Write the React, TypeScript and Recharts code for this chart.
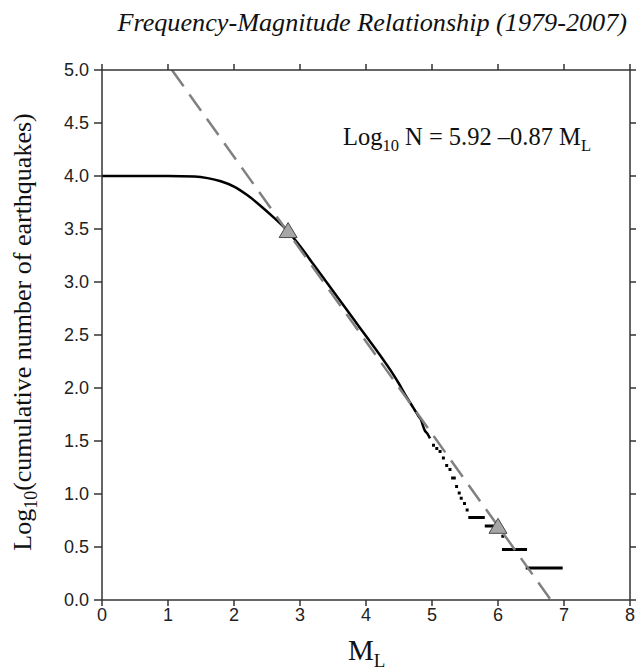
import { ComposedChart, Line, Scatter, XAxis, YAxis } from "recharts";

// cumulative curve
const curveM = [0, 0.5, 1.0, 1.4, 1.6, 1.8, 2.0, 2.2, 2.4, 2.6, 2.8, 3.0, 3.2, 3.4, 3.6, 3.8, 4.0, 4.2, 4.4, 4.5, 4.6, 4.7, 4.74, 4.77, 4.8, 4.84, 4.86, 4.89, 4.93, 4.97];
const curveLogN = [4.0, 4.0, 4.0, 3.995, 3.98, 3.95, 3.9, 3.82, 3.72, 3.61, 3.49, 3.34, 3.17, 3.0, 2.83, 2.66, 2.49, 2.32, 2.14, 2.04, 1.93, 1.83, 1.79, 1.76, 1.73, 1.69, 1.65, 1.6, 1.57, 1.525];

// sparse tail: each entry is a flat step from start to end magnitude
const tailStart = [5.0, 5.05, 5.1, 5.15, 5.2, 5.25, 5.29, 5.35, 5.39, 5.42, 5.47, 5.51, 5.55, 5.8, 6.05, 6.06, 6.42];
const tailEnd = [5.045, 5.095, 5.145, 5.195, 5.245, 5.295, 5.36, 5.395, 5.435, 5.465, 5.515, 5.555, 5.8, 5.94, 6.095, 6.44, 6.98];
const tailLogN = [1.46, 1.43, 1.4, 1.34, 1.27, 1.23, 1.15, 1.07, 1.01, 0.96, 0.91, 0.85, 0.778, 0.699, 0.602, 0.477, 0.301];

// fitted line Log10 N = 5.92 - 0.87 ML, endpoints where it meets the frame
const fitM = [1.06, 6.8];
const fitLogN = [5.0, 0.0];

// triangles marking the fit range
const markM = [2.82, 6.0];
const markLogN = [3.49, 0.7];

const xTicks = [0, 1, 2, 3, 4, 5, 6, 7, 8];
const yTicks = [0, 0.5, 1, 1.5, 2, 2.5, 3, 3.5, 4, 4.5, 5];

const curveData = curveM.map((m, i) => ({ m, v: curveLogN[i] }));
const tailData = tailStart.flatMap((s, i) => [
  { m: s, v: tailLogN[i] },
  { m: tailEnd[i], v: tailLogN[i] },
  { m: tailEnd[i], v: null },
]);
const fitData = fitM.map((m, i) => ({ m, v: fitLogN[i] }));
const markData = markM.map((m, i) => ({ m, v: markLogN[i] }));

const axisColor = "#333";
const tickFont = { fontFamily: "Liberation Sans, Arial, sans-serif", fontSize: 18, fill: "#222" };
const serif = "'Liberation Serif', 'Times New Roman', serif";

function Triangle(props: any) {
  const { cx, cy } = props;
  const w = 9;
  const h = 15;
  return (
    <polygon
      points={`${cx - w},${cy + h / 2} ${cx + w},${cy + h / 2} ${cx},${cy - h / 2}`}
      fill="#a6a6a6"
      stroke="#4a4a4a"
      strokeWidth={1}
    />
  );
}

export default function App() {
  return (
    <div style={{ position: "absolute", left: 0, top: 0, width: 636, height: 671, background: "#fff" }}>
      <ComposedChart width={636} height={671} margin={{ top: 0, right: 0, bottom: 0, left: 0 }}>
        <XAxis
          dataKey="m"
          type="number"
          domain={[0, 8]}
          ticks={xTicks}
          height={71}
          tickSize={6}
          tickMargin={2}
          tick={tickFont}
          stroke={axisColor}
          strokeWidth={1.5}
          allowDataOverflow
        />
        <XAxis
          xAxisId="top"
          orientation="top"
          dataKey="m"
          type="number"
          domain={[0, 8]}
          ticks={xTicks}
          height={70}
          tickSize={6}
          tickFormatter={() => ""}
          stroke={axisColor}
          strokeWidth={1.5}
          allowDataOverflow
        />
        <YAxis
          type="number"
          domain={[0, 5]}
          ticks={yTicks}
          width={102}
          tickSize={8}
          tickMargin={5}
          tick={tickFont}
          tickFormatter={(v: number) => v.toFixed(1)}
          stroke={axisColor}
          strokeWidth={1.5}
          allowDataOverflow
        />
        <YAxis
          yAxisId="right"
          orientation="right"
          type="number"
          domain={[0, 5]}
          ticks={yTicks}
          width={6}
          tickSize={6}
          tickFormatter={() => ""}
          stroke={axisColor}
          strokeWidth={1.5}
          allowDataOverflow
        />
        <Line
          data={curveData}
          dataKey="v"
          type="monotone"
          stroke="#000"
          strokeWidth={2.5}
          dot={false}
          isAnimationActive={false}
        />
        <Line
          data={tailData}
          dataKey="v"
          type="linear"
          stroke="#000"
          strokeWidth={3}
          dot={false}
          isAnimationActive={false}
        />
        <Line
          data={fitData}
          dataKey="v"
          type="linear"
          stroke="#808080"
          strokeWidth={2.5}
          strokeDasharray="20 10"
          dot={false}
          isAnimationActive={false}
        />
        <Scatter data={markData} dataKey="v" shape={Triangle} isAnimationActive={false} />
      </ComposedChart>

      <div
        style={{
          position: "absolute",
          right: 9,
          top: 8,
          fontFamily: serif,
          fontStyle: "italic",
          fontSize: 26.2,
          color: "#111",
          whiteSpace: "nowrap",
        }}
      >
        Frequency-Magnitude Relationship (1979-2007)
      </div>

      <div
        style={{
          position: "absolute",
          left: 343,
          top: 123,
          fontFamily: serif,
          fontSize: 24.5,
          color: "#111",
          whiteSpace: "nowrap",
        }}
      >
        Log<sub style={{ fontSize: 16.5 }}>10</sub> N = 5.92 –0.87 M<sub style={{ fontSize: 16.5 }}>L</sub>
      </div>

      <div
        style={{
          position: "absolute",
          left: 25,
          top: 332,
          transform: "translate(-50%, -50%) rotate(-90deg)",
          fontFamily: serif,
          fontSize: 26,
          color: "#111",
          whiteSpace: "nowrap",
          lineHeight: 1,
        }}
      >
        Log<sub style={{ fontSize: 18 }}>10</sub>(cumulative number of earthquakes)
      </div>

      <div
        style={{
          position: "absolute",
          left: 348,
          top: 634,
          fontFamily: serif,
          fontSize: 29,
          color: "#111",
          whiteSpace: "nowrap",
        }}
      >
        M<sub style={{ fontSize: 19 }}>L</sub>
      </div>
    </div>
  );
}
